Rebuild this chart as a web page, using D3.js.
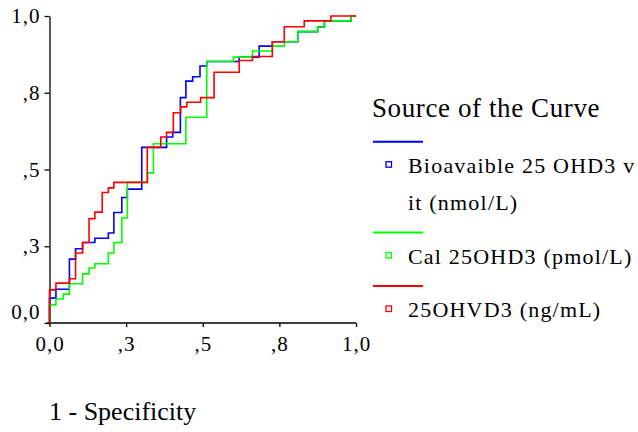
<!DOCTYPE html>
<html>
<head>
<meta charset="utf-8">
<script src="https://cdn.jsdelivr.net/npm/d3@7"></script>
</head>
<body style="margin:0">
<div id="chart"></div>
<script>
// ROC curves, step points (1 - specificity, sensitivity)
const bioFpr = [0, 0.021, 0.065, 0.085, 0.108, 0.148, 0.192, 0.210, 0.236, 0.254, 0.301, 0.382, 0.402, 0.427, 0.445, 0.467, 0.491, 0.513, 0.619, 0.684, 0.727, 0.810, 0.875, 0.897, 0.984, 1.0];
const bioTpr = [0.081, 0.110, 0.208, 0.242, 0.262, 0.276, 0.293, 0.360, 0.409, 0.436, 0.572, 0.606, 0.621, 0.734, 0.788, 0.802, 0.837, 0.852, 0.866, 0.902, 0.916, 0.949, 0.964, 0.984, 1.0, 1.0];

const calFpr = [0, 0.021, 0.045, 0.065, 0.108, 0.129, 0.148, 0.192, 0.210, 0.236, 0.254, 0.320, 0.339, 0.445, 0.513, 0.600, 0.662, 0.727, 0.766, 0.810, 0.875, 0.897, 0.984, 1.0];
const calTpr = [0.059, 0.078, 0.094, 0.128, 0.160, 0.179, 0.193, 0.228, 0.262, 0.342, 0.458, 0.489, 0.584, 0.670, 0.852, 0.866, 0.886, 0.902, 0.916, 0.949, 0.964, 0.984, 1.0, 1.0];

const ohvFpr = [0, 0.021, 0.065, 0.085, 0.108, 0.129, 0.148, 0.172, 0.192, 0.210, 0.319, 0.363, 0.382, 0.404, 0.428, 0.448, 0.493, 0.537, 0.619, 0.662, 0.727, 0.766, 0.831, 0.918, 1.0];
const ohvTpr = [0.108, 0.130, 0.144, 0.228, 0.262, 0.340, 0.361, 0.425, 0.440, 0.458, 0.572, 0.606, 0.621, 0.685, 0.704, 0.719, 0.734, 0.817, 0.855, 0.868, 0.916, 0.965, 0.984, 1.0, 1.0];

const tickValues = [0, 0.25, 0.5, 0.75, 1];
const tickLabels = ["0,0", ",3", ",5", ",8", "1,0"];

const seriesNames = ["Bioavaible 25 OHD3 vit (nmol/L)", "Cal 25OHD3 (pmol/L)", "25OHVD3 (ng/mL)"];
// legend text as SPSS wrapped it
const legendLines = [["Bioavaible 25 OHD3 v", "it (nmol/L)"], ["Cal 25OHD3 (pmol/L)"], ["25OHVD3 (ng/mL)"]];
const seriesColors = ["#0000ff", "#00ff00", "#ff0000"];

const width = 638, height = 432;
const margin = { top: 16, left: 49.5 };
const innerWidth = 306.5, innerHeight = 307;

const svg = d3.select("#chart").append("svg")
  .attr("width", width)
  .attr("height", height)
  .style("display", "block");

const g = svg.append("g").attr("transform", `translate(${margin.left},${margin.top})`);

const x = d3.scaleLinear().domain([0, 1]).range([0, innerWidth]);
const y = d3.scaleLinear().domain([0, 1]).range([innerHeight, 0]);

const series = [
  { fpr: bioFpr, tpr: bioTpr },
  { fpr: calFpr, tpr: calTpr },
  { fpr: ohvFpr, tpr: ohvTpr }
].map((s, i) => ({
  name: seriesNames[i],
  color: seriesColors[i],
  points: [[0, 0]].concat(s.fpr.map((f, j) => [f, s.tpr[j]]))
}));

// serif text helper, family set per element
function label(sel, size, spacing) {
  return sel.style("font-family", `"Liberation Serif"`)
    .style("font-size", size + "px")
    .style("letter-spacing", spacing + "px")
    .attr("fill", "#000");
}

// axes
const xAxis = g.append("g")
  .attr("transform", `translate(0,${innerHeight})`)
  .call(d3.axisBottom(x).tickValues(tickValues).tickFormat((d, i) => tickLabels[i]).tickSize(4).tickSizeOuter(0));
const yAxis = g.append("g")
  .call(d3.axisLeft(y).tickValues(tickValues).tickFormat((d, i) => tickLabels[i]).tickSize(5).tickSizeOuter(0));

[xAxis, yAxis].forEach(a => {
  a.attr("font-family", null).attr("font-size", null);
  a.select(".domain").attr("stroke", "#000").attr("stroke-width", 1.3);
  a.selectAll(".tick line").attr("stroke", "#000").attr("stroke-width", 1.3);
  label(a.selectAll(".tick text"), 21, 1);
});
xAxis.select(".domain").attr("d", `M-3,0H${innerWidth}`);
xAxis.selectAll(".tick text").attr("y", 13).attr("dy", "0.71em");
yAxis.selectAll(".tick text").attr("x", -9).attr("dy", (d, i) => i === 0 ? "-0.2em" : "0.32em");

// curves
const line = d3.line()
  .x(d => x(d[0]))
  .y(d => y(d[1]))
  .curve(d3.curveStepAfter);

g.selectAll(".roc")
  .data(series)
  .enter()
  .append("path")
  .attr("class", "roc")
  .attr("fill", "none")
  .attr("stroke", d => d.color)
  .attr("stroke-width", 1.6)
  .attr("d", d => line(d.points));

// x axis title
label(svg.append("text"), 26, 0)
  .attr("x", 49)
  .attr("y", 420)
  .text("1 - Specificity");

// legend
const legend = svg.append("g").attr("transform", "translate(372,0)");
label(legend.append("text"), 27, 0.6)
  .attr("x", 0)
  .attr("y", 117)
  .text("Source of the Curve");

let ly = 141.7;
series.forEach((s, i) => {
  legend.append("line")
    .attr("x1", 1).attr("x2", 51)
    .attr("y1", ly).attr("y2", ly)
    .attr("stroke", s.color)
    .attr("stroke-width", 2);
  const base = ly + 31;
  legend.append("rect")
    .attr("x", 14).attr("y", base - 11)
    .attr("width", 5.5).attr("height", 5.5)
    .attr("fill", "none")
    .attr("stroke", s.color)
    .attr("stroke-width", 1.3);
  legendLines[i].forEach((t, k) => {
    label(legend.append("text"), 22, 1.2)
      .attr("x", 36)
      .attr("y", base + k * 37.3)
      .text(t);
  });
  ly = base + (legendLines[i].length - 1) * 37.3 + 22.5;
});
</script>
</body>
</html>
